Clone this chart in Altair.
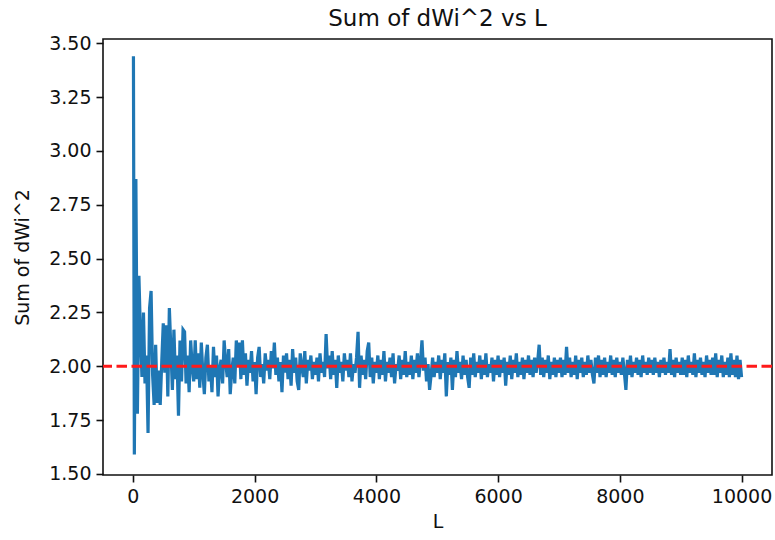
import altair as alt
import pandas as pd

# L values (x) and Sum of dWi^2 values (y)
L_values = [10] + list(range(25, 10001, 25))

sum_dwi2 = [3.44,
    1.59, 2.87, 1.78, 2.42, 2.15, 1.95, 2.25, 1.92, 2.05, 1.69, 2.27, 2.35, 1.96, 1.82, 2.10, 1.83, 1.98, 1.82, 2.02, 2.20,
    1.97, 2.19, 1.86, 2.27, 2.08, 1.89, 2.17, 1.94, 2.05, 1.77, 2.12, 1.93, 2.17, 2.16, 1.92, 2.05, 1.88, 2.12, 2.00, 1.93,
    2.12, 1.94, 2.06, 1.90, 2.11, 1.97, 1.87, 2.04, 2.10, 1.93, 2.00, 1.88, 2.09, 1.95, 2.05, 1.86, 1.99, 2.03, 1.92, 2.12,
    2.02, 1.95, 2.08, 1.87, 1.98, 2.04, 1.92, 2.12, 2.00, 2.11, 1.94, 2.12, 1.96, 2.06, 1.91, 2.03, 1.97, 2.07, 1.93, 2.02,
    1.87, 2.04, 2.09, 1.95, 2.01, 1.92, 2.06, 1.98, 2.03, 1.94, 2.07, 1.99, 2.11, 1.96, 2.04, 1.93, 2.02, 1.88, 2.05, 1.97,
    2.06, 1.94, 2.03, 1.91, 2.08, 1.97, 2.04, 1.93, 1.89, 2.06, 2.00, 1.95, 2.07, 1.92, 2.03, 1.98, 2.05, 1.94, 2.02, 1.96,
    2.04, 1.93, 2.06, 1.97, 2.02, 1.95, 2.15, 1.99, 2.05, 1.94, 2.07, 1.96, 2.03, 1.90, 2.05, 1.97, 2.02, 1.93, 2.06, 1.98,
    2.03, 1.95, 2.06, 1.93, 2.01, 1.97, 2.04, 2.16, 1.90, 2.05, 1.96, 2.03, 1.94, 2.07, 2.11, 1.95, 2.04, 1.92, 2.02, 1.97,
    2.05, 1.94, 2.03, 1.96, 2.07, 1.93, 2.02, 1.97, 2.04, 1.95, 2.06, 1.92, 2.01, 1.98, 2.05, 1.94, 2.03, 1.96, 2.07, 1.95,
    2.02, 1.96, 2.05, 1.94, 2.03, 1.97, 2.06, 1.95, 2.02, 2.12, 1.98, 2.04, 1.93, 2.01, 1.89, 1.96, 2.04, 1.95, 2.02, 1.97,
    2.05, 1.94, 2.03, 1.97, 2.06, 1.86, 2.02, 1.96, 2.04, 1.89, 2.03, 1.95, 2.07, 1.97, 2.02, 1.94, 2.05, 1.96, 2.03, 1.95,
    1.90, 2.04, 1.96, 2.06, 1.95, 2.02, 1.97, 2.05, 1.94, 2.03, 1.96, 2.06, 1.95, 2.01, 1.97, 2.04, 1.93, 2.03, 1.96, 2.05,
    1.95, 2.03, 1.97, 2.04, 1.91, 2.02, 1.96, 2.05, 1.94, 2.03, 1.97, 2.06, 1.95, 2.02, 1.96, 2.04, 1.94, 2.03, 1.97, 2.05,
    1.96, 2.03, 1.95, 2.04, 1.97, 2.02, 2.10, 1.96, 2.04, 1.95, 2.03, 1.97, 2.05, 1.94, 2.02, 1.96, 2.04, 1.95, 2.03, 1.97,
    2.04, 1.95, 2.03, 1.96, 2.09, 1.97, 2.04, 1.95, 2.02, 1.96, 2.05, 1.94, 2.03, 1.97, 2.04, 1.95, 2.02, 1.96, 2.05, 1.97,
    2.03, 1.96, 1.92, 2.04, 1.97, 2.05, 1.95, 2.03, 1.96, 2.04, 1.95, 2.02, 1.97, 2.05, 1.96, 2.03, 1.95, 2.04, 1.97, 2.02,
    1.96, 2.04, 1.97, 1.89, 2.03, 1.96, 2.05, 1.95, 2.02, 1.97, 2.04, 1.96, 2.03, 1.95, 2.05, 1.97, 2.02, 1.96, 2.04, 1.97,
    2.03, 1.96, 2.04, 1.97, 2.02, 1.95, 2.03, 1.97, 2.04, 1.96, 2.02, 1.97, 2.08, 1.96, 2.03, 1.95, 2.04, 1.97, 2.02, 1.96,
    2.04, 1.96, 2.03, 1.95, 2.05, 1.97, 2.02, 1.96, 2.06, 1.95, 2.03, 1.97, 2.04, 1.96, 2.02, 1.95, 2.05, 1.97, 2.03, 1.96,
    2.04, 1.96, 2.06, 1.95, 2.03, 1.97, 2.05, 1.95, 2.02, 1.96, 2.04, 1.95, 2.06, 1.96, 2.03, 1.95, 2.05, 1.94, 2.03, 1.95,
]

reference_level = [2.0]
x_ticks = [0, 2000, 4000, 6000, 8000, 10000]
y_ticks = [1.50, 1.75, 2.00, 2.25, 2.50, 2.75, 3.00, 3.25, 3.50]

assert len(L_values) == len(sum_dwi2)

df = pd.DataFrame({"L": L_values, "S": sum_dwi2})
ref_df = pd.DataFrame({"level": reference_level})

FONT = "DejaVu Sans"

x_scale = alt.Scale(domain=[-490, 10500], nice=False, zero=False)
y_scale = alt.Scale(domain=[1.495, 3.52], nice=False, zero=False)

line = alt.Chart(df).mark_line(color="#1f77b4", strokeWidth=3.2).encode(
    x=alt.X("L:Q", scale=x_scale, title="L",
            axis=alt.Axis(values=x_ticks, format="d", titlePadding=6)),
    y=alt.Y("S:Q", scale=y_scale, title="Sum of dWi^2",
            axis=alt.Axis(values=y_ticks, format=".2f", titlePadding=16)),
)

ref = alt.Chart(ref_df).mark_rule(color="#ff1a1a", strokeWidth=3, strokeDash=[10.5, 4.5]).encode(
    y=alt.Y("level:Q", scale=y_scale)
)

chart = alt.layer(line, ref).properties(
    width=669,
    height=436,
    title=alt.TitleParams("Sum of dWi^2 vs L", font=FONT, fontSize=23, fontWeight="normal",
                          color="#111", anchor="middle", offset=3),
    autosize=alt.AutoSizeParams(type="none"),
    padding={"left": 103, "top": 39, "right": 3, "bottom": 65},
).configure_view(
    stroke="#111", strokeWidth=1.6
).configure_axis(
    grid=False, domain=False,
    tickColor="#111", tickWidth=1.6, tickSize=7,
    labelFont=FONT, labelFontSize=19, labelColor="#111", labelPadding=5,
    titleFont=FONT, titleFontSize=19, titleColor="#111", titleFontWeight="normal",
)

chart.save("out.html", embed_options={"renderer": "svg", "actions": False})
